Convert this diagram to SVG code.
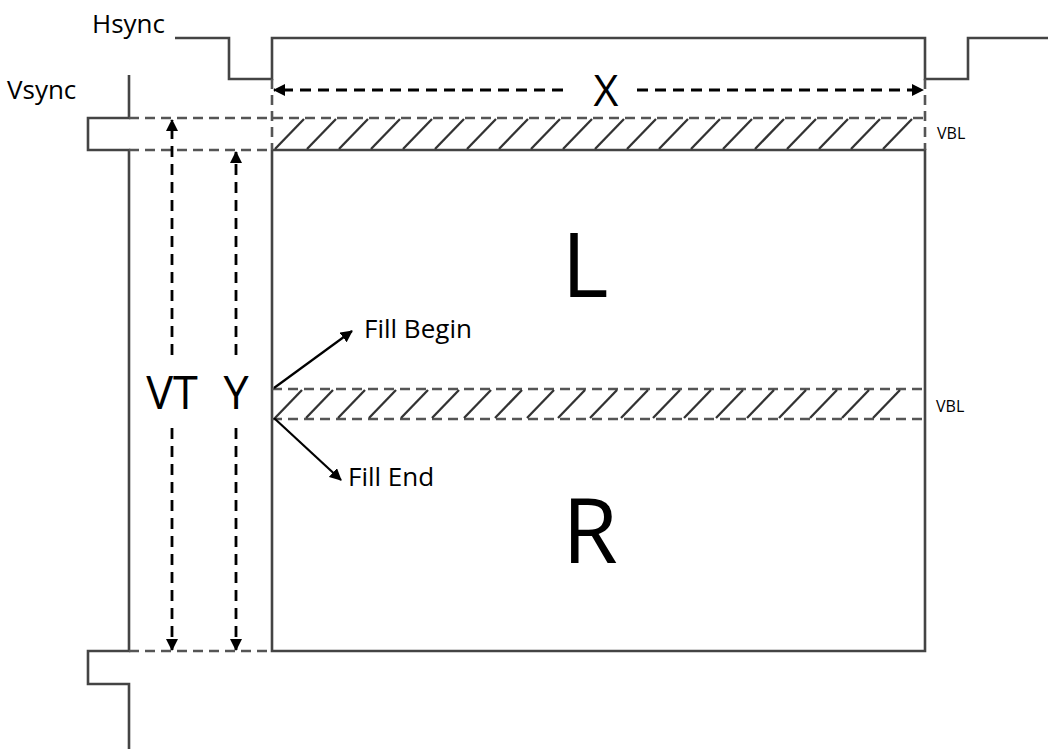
<svg xmlns="http://www.w3.org/2000/svg" width="1048" height="749" viewBox="0 0 1048 749">
<style>
.sig{fill:none;stroke:#444;stroke-width:2.6;}
.dash{fill:none;stroke:#555;stroke-width:2.6;stroke-dasharray:10 6;}
.hatch{stroke:#333;stroke-width:2.3;}
.arr{fill:none;stroke:#000;stroke-width:2.8;stroke-dasharray:11 7;}
.sarr{fill:none;stroke:#000;stroke-width:2.2;}
.t{font-family:"Open Sans","Noto Sans",sans-serif;fill:#000;}
</style>
<defs>
<marker id="ah" viewBox="0 0 12 12" refX="11" refY="6" markerWidth="12" markerHeight="12" markerUnits="userSpaceOnUse" orient="auto-start-reverse">
<path d="M0,0 L12,6 L0,12 z" fill="#000"/>
</marker>
</defs>
<rect width="1048" height="749" fill="#fff"/>
<g id="hsync">
<polyline class="sig" points="175,38 229,38 229,79 272,79 272,38 925,38 925,79 968,79 968,38 1048,38"/>
<text class="t" x="92" y="33" font-size="26">Hsync</text>
</g>
<g id="vsync">
<polyline class="sig" points="129,75 129,118 88,118 88,150 129,150 129,651 88,651 88,684 129,684 129,749"/>
<text class="t" x="7" y="99" font-size="26">Vsync</text>
</g>
<g id="frame">
<polyline class="sig" points="272,150 272,651 925,651 925,150 272,150"/>
<line class="dash" x1="272" y1="79" x2="272" y2="150"/>
<line class="dash" x1="925" y1="79" x2="925" y2="150"/>
<line class="dash" x1="129" y1="118" x2="925" y2="118"/>
<line class="dash" x1="129" y1="150" x2="272" y2="150"/>
<line class="dash" x1="129" y1="651" x2="272" y2="651"/>
</g>
<g id="vbl-top">
<g class="hatch">
<line x1="275" y1="149" x2="304" y2="119"/><line x1="307" y1="149" x2="336" y2="119"/><line x1="339" y1="149" x2="368" y2="119"/><line x1="371" y1="149" x2="400" y2="119"/><line x1="403" y1="149" x2="432" y2="119"/><line x1="435" y1="149" x2="464" y2="119"/><line x1="467" y1="149" x2="496" y2="119"/><line x1="499" y1="149" x2="528" y2="119"/><line x1="531" y1="149" x2="560" y2="119"/><line x1="563" y1="149" x2="592" y2="119"/><line x1="595" y1="149" x2="624" y2="119"/><line x1="627" y1="149" x2="656" y2="119"/><line x1="659" y1="149" x2="688" y2="119"/><line x1="691" y1="149" x2="720" y2="119"/><line x1="723" y1="149" x2="752" y2="119"/><line x1="755" y1="149" x2="784" y2="119"/><line x1="787" y1="149" x2="816" y2="119"/><line x1="819" y1="149" x2="848" y2="119"/><line x1="851" y1="149" x2="880" y2="119"/><line x1="883" y1="149" x2="912" y2="119"/>
</g>
<text class="t" x="937" y="139" font-size="16">VBL</text>
</g>
<g id="vbl-mid">
<line class="dash" x1="272" y1="389" x2="925" y2="389"/>
<line class="dash" x1="272" y1="419" x2="925" y2="419"/>
<g class="hatch">
<line x1="275" y1="418" x2="302" y2="390"/><line x1="306" y1="418" x2="333" y2="390"/><line x1="338" y1="418" x2="365" y2="390"/><line x1="369" y1="418" x2="396" y2="390"/><line x1="401" y1="418" x2="428" y2="390"/><line x1="432" y1="418" x2="459" y2="390"/><line x1="464" y1="418" x2="491" y2="390"/><line x1="495" y1="418" x2="522" y2="390"/><line x1="527" y1="418" x2="554" y2="390"/><line x1="558" y1="418" x2="585" y2="390"/><line x1="590" y1="418" x2="617" y2="390"/><line x1="621" y1="418" x2="648" y2="390"/><line x1="653" y1="418" x2="680" y2="390"/><line x1="684" y1="418" x2="711" y2="390"/><line x1="716" y1="418" x2="743" y2="390"/><line x1="747" y1="418" x2="774" y2="390"/><line x1="779" y1="418" x2="806" y2="390"/><line x1="810" y1="418" x2="837" y2="390"/><line x1="842" y1="418" x2="869" y2="390"/><line x1="873" y1="418" x2="900" y2="390"/>
</g>
<text class="t" x="936" y="412" font-size="16">VBL</text>
</g>
<g id="labels">
<text class="t" x="585" y="297" font-size="90" text-anchor="middle">L</text>
<text class="t" x="590" y="563" font-size="90" text-anchor="middle">R</text>
</g>
<g id="connectors">
<line class="arr" x1="563" y1="90" x2="274" y2="90" marker-end="url(#ah)"/>
<line class="arr" x1="637" y1="90" x2="923" y2="90" marker-end="url(#ah)"/>
<text class="t" x="606" y="106" font-size="43" text-anchor="middle">X</text>
<line class="arr" x1="172" y1="355" x2="172" y2="120" marker-end="url(#ah)"/>
<line class="arr" x1="172" y1="428" x2="172" y2="650" marker-end="url(#ah)"/>
<text class="t" x="172" y="409" font-size="45" text-anchor="middle">VT</text>
<line class="arr" x1="236" y1="355" x2="236" y2="152" marker-end="url(#ah)"/>
<line class="arr" x1="236" y1="428" x2="236" y2="650" marker-end="url(#ah)"/>
<text class="t" x="236" y="409" font-size="45" text-anchor="middle">Y</text>
<line class="sarr" x1="274" y1="388" x2="352" y2="331" marker-end="url(#ah)"/>
<line class="sarr" x1="274" y1="418" x2="341" y2="480" marker-end="url(#ah)"/>
<text class="t" x="364" y="338" font-size="26">Fill Begin</text>
<text class="t" x="348" y="486" font-size="26">Fill End</text>
</g>
</svg>
